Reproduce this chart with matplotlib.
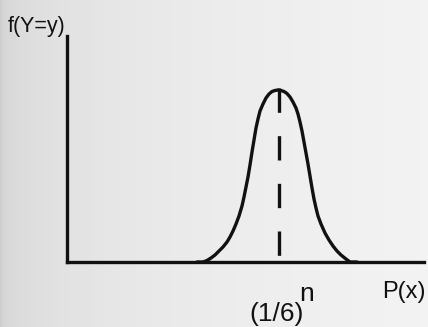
import matplotlib
matplotlib.use("Agg")
import matplotlib.pyplot as plt
import numpy as np

plt.rcParams['font.family'] = ['Liberation Sans', 'DejaVu Sans']

# curve traced as (distance from y axis, height above x axis), in axis units
curve_x = [130, 136, 140, 144, 148, 152, 156, 160, 163, 166, 169, 172, 175, 177,
           179, 181, 183, 185, 187, 189, 191, 193, 196, 199, 202, 205, 208, 211,
           214, 217, 220, 223, 226, 229, 231, 233, 235, 237, 239, 241, 243,
           245, 247, 249, 251, 254, 258, 262, 266, 270, 274, 279, 283, 290]
curve_y = [0, 0, 1.5, 4, 7, 11, 15, 20, 25, 31, 38, 46, 56, 65,
           75, 85, 97, 110, 122, 134, 143, 151, 158, 164, 168, 170.5, 171.5, 172,
           171.5, 170.5, 168.5, 165, 160, 154, 148, 140, 131, 120, 109, 98, 86,
           74, 63, 54, 46, 38, 29, 22, 16, 11, 7, 3, 0, 0]

peak_x = 212
peak_top = 174
x_label = "P(x)"
y_label = "f(Y=y)"
peak_label = "(1/6)"
peak_exp = "n"

W, H = 428, 327
fig = plt.figure(figsize=(W / 100, H / 100), dpi=100)

# scanned-page background, a little darker towards the left edge
bg = fig.add_axes([0, 0, 1, 1])
shade = np.clip(0.80 + 0.15 * np.linspace(0, 1, W) ** 0.3, 0, 1)
bg.imshow(np.tile(shade, (H, 1)), cmap="gray", vmin=0, vmax=1, aspect="auto")
bg.axis("off")

left, right, base, top = 67, 424, 262, 36
ax = fig.add_axes([left / W, 1 - base / H, (right - left) / W, (base - top) / H])
ax.set_xlim(0, right - left)
ax.set_ylim(0, base - top)
ax.patch.set_alpha(0)
ink = "#111111"
for side in ("top", "right"):
    ax.spines[side].set_visible(False)
for side in ("left", "bottom"):
    ax.spines[side].set_linewidth(2.4)
    ax.spines[side].set_color(ink)
ax.set_xticks([])
ax.set_yticks([])

ax.plot(curve_x, curve_y, color=ink, lw=2.4, solid_capstyle="round",
        solid_joinstyle="round", clip_on=False)
ax.plot([peak_x, peak_x], [peak_top, 5], color=ink, lw=2.4,
        linestyle=(0, (7.3, 7.0)), dash_capstyle="butt")

fig.text(8 / W, 1 - 32 / H, y_label, fontsize=15.5, color=ink, va="baseline")
fig.text(382 / W, 1 - 298 / H, x_label, fontsize=17, color=ink, va="baseline")
fig.text(249 / W, 1 - 321 / H, peak_label, fontsize=19, color=ink, va="baseline")
fig.text(299 / W, 1 - 301 / H, peak_exp, fontsize=19, color=ink, va="baseline")

fig.savefig("out.png", dpi=100)
